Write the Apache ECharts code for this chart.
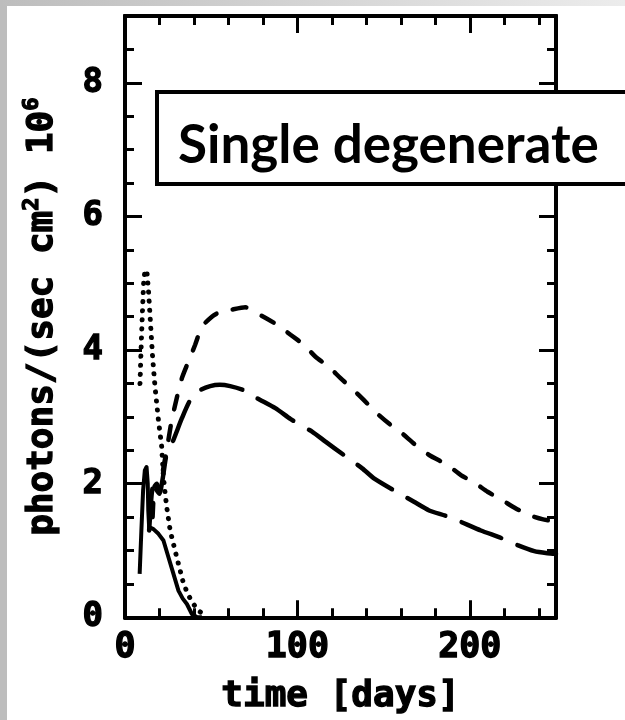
<!DOCTYPE html>
<html>
<head>
<meta charset="utf-8">
<script src="https://cdn.jsdelivr.net/npm/echarts@6/dist/echarts.min.js"></script>
<style>
html,body{margin:0;padding:0;background:#fff;}
#chart{width:625px;height:720px;}
</style>
</head>
<body>
<div id="chart"></div>
<script>
// ---- data (days, photons/(sec cm^2) x 10^6) ----
const xTickLabels = [0, 100, 200];
const yTickLabels = [0, 2, 4, 6, 8];

const dottedLine = [[8.7,3.5],[9.3,4.0],[10.0,4.5],[10.8,5.0],[11.6,5.2],[12.8,5.15],[13.6,4.9],[14.8,4.4],[16.0,3.9],[17.4,3.45],[18.4,3.2],[19.4,2.95],[21.3,2.55],[22.3,2.1],[23.3,1.85],[24.2,1.65],[26.2,1.3],[28.1,1.1],[30.0,0.9],[32.0,0.7],[34.0,0.5],[36.8,0.33],[39.7,0.2],[42.6,0.1],[46.5,0.03]];

const solidLine = [[8.5,0.65],[9.5,1.3],[10.5,1.9],[11.5,2.2],[12.5,2.25],[13.2,2.0],[13.5,1.6],[14.0,1.35],[15.0,1.35],[16.5,1.32],[19.4,1.25],[22.3,1.15],[25.2,0.9],[28.1,0.65],[31.0,0.4],[33.5,0.28],[35.9,0.2],[38.8,0.05],[42.0,0.0],[44.6,0.0]];

const shortDashLine = [[16,1.5],[17,1.95],[18.5,2.0],[20,1.9],[22,2.2],[24.5,2.55],[27.1,2.95],[30,3.28],[33,3.58],[36.8,3.83],[40.7,4.08],[44.6,4.35],[50.4,4.50],[55,4.57],[61,4.60],[69.8,4.64],[79.5,4.51],[88.2,4.38],[96,4.23],[103.7,4.08],[110.5,3.90],[118.2,3.75],[125,3.58],[132.7,3.40],[138.6,3.25],[146.3,3.05],[153.1,2.90],[160.9,2.75],[167.6,2.60],[176.4,2.43],[187,2.28],[194.8,2.13],[203.5,2.0],[210.3,1.88],[219,1.75],[226.7,1.63],[234.5,1.53],[242,1.47],[250,1.43]];

const longDashLine = [[14,1.3],[15.5,1.85],[17,2.05],[18.5,1.9],[20,1.85],[22,2.1],[24.2,2.45],[28,2.65],[33,2.98],[37.8,3.25],[43.6,3.40],[49.4,3.46],[55,3.48],[61,3.46],[68.8,3.40],[76.6,3.28],[87.2,3.13],[95.9,2.97],[101.7,2.88],[108.5,2.78],[116.3,2.63],[126.9,2.43],[137.6,2.23],[144.4,2.08],[156,1.90],[167.6,1.73],[176.4,1.60],[186,1.52],[193.8,1.44],[206.4,1.30],[219,1.18],[227.7,1.08],[237.4,0.99],[245,0.96],[250,0.95]];

const boxText = 'Single degenerate';

// ---- chart ----
const chart = echarts.init(document.getElementById('chart'), null, {renderer: 'canvas'});
const FONT = 'DejaVu Sans Mono';
const lineW = 4;
const heavy = {textBorderColor: '#000', textBorderWidth: 1.3};
function xAxisDef(pos, interval, len, showLabel, name) {
  return {
    type: 'value', position: pos, min: 0, max: 250, interval: interval,
    axisLine: {show: true, onZero: false, lineStyle: {color: '#000', width: lineW}},
    axisTick: {show: true, inside: true, length: len, lineStyle: {color: '#000', width: 3}},
    splitLine: {show: false},
    axisLabel: Object.assign({show: showLabel, margin: 13, color: '#000', fontFamily: FONT, fontWeight: 'bold', fontSize: 35,
      formatter: v => xTickLabels.includes(v) ? String(v) : ''}, heavy),
    name: name || '', nameLocation: 'middle', nameGap: 61,
    nameTextStyle: Object.assign({color: '#000', fontFamily: FONT, fontWeight: 'bold', fontSize: 36}, heavy)
  };
}
function yAxisDef(pos, interval, len, showLabel, withName) {
  return {
    type: 'value', position: pos, min: 0, max: 9, interval: interval,
    axisLine: {show: true, onZero: false, lineStyle: {color: '#000', width: lineW}},
    axisTick: {show: true, inside: true, length: len, lineStyle: {color: '#000', width: 3}},
    splitLine: {show: false},
    axisLabel: Object.assign({show: showLabel, margin: 22, color: '#000', fontFamily: FONT, fontWeight: 'bold', fontSize: 34,
      formatter: v => yTickLabels.includes(v) ? String(v) : ''}, heavy),
    name: withName ? '{b|photons/(sec cm}{s|2}{b|) 10}{s|6}' : '',
    nameLocation: 'middle', nameGap: 60, nameRotate: 90,
    nameTextStyle: {color: '#000', fontFamily: FONT, fontWeight: 'bold', fontSize: 36,
      rich: {
        b: Object.assign({fontFamily: FONT, fontWeight: 'bold', fontSize: 36, color: '#000'}, heavy),
        s: Object.assign({fontFamily: FONT, fontWeight: 'bold', fontSize: 22, color: '#000', verticalAlign: 'top', padding: [0,0,22,0]}, heavy)
      }}
  };
}

const option = {
  animation: false,
  backgroundColor: '#ffffff',
  grid: {left: 125, right: 69, top: 16, bottom: 100, containLabel: false},
  xAxis: [
    xAxisDef('bottom', 20, 9, true, 'time [days]'),
    xAxisDef('bottom', 100, 17, false),
    xAxisDef('top', 20, 9, false),
    xAxisDef('top', 100, 17, false)
  ],
  yAxis: [
    yAxisDef('left', 0.5, 9, true, true),
    yAxisDef('left', 2, 17, false, false),
    yAxisDef('right', 0.5, 9, false, false),
    yAxisDef('right', 2, 17, false, false)
  ],
  series: [
    {type: 'line', data: dottedLine, showSymbol: false, smooth: false, xAxisIndex: 0, yAxisIndex: 0,
      lineStyle: {color: '#000', width: 5, type: [0.1, 9], cap: 'round'}},
    {type: 'line', data: solidLine, showSymbol: false, smooth: false, xAxisIndex: 0, yAxisIndex: 0,
      lineStyle: {color: '#000', width: 4, type: 'solid', join: 'round'}},
    {type: 'line', data: shortDashLine, showSymbol: false, smooth: 0.2, xAxisIndex: 0, yAxisIndex: 0,
      lineStyle: {color: '#000', width: 4.5, type: [14, 17], cap: 'round'}},
    {type: 'line', data: longDashLine, showSymbol: false, smooth: 0.2, xAxisIndex: 0, yAxisIndex: 0,
      lineStyle: {color: '#000', width: 4.5, type: [42, 18], cap: 'round'}}
  ],
  graphic: [
    {type: 'rect', shape: {x: 0, y: 0, width: 7, height: 720}, style: {fill: '#bdbdbd'}, z: 200, silent: true},
    {type: 'rect', shape: {x: 0, y: 0, width: 625, height: 6},
      style: {fill: new echarts.graphic.LinearGradient(0, 0, 1, 0, [{offset: 0, color: '#bdbdbd'}, {offset: 1, color: '#ececec'}])}, z: 200, silent: true},
    {type: 'rect', shape: {x: 157, y: 92, width: 500, height: 92},
      style: {fill: '#fff', stroke: '#000', lineWidth: 4}, z: 100, silent: true},
    {type: 'text', x: 178, y: 146, z: 101, silent: true,
      style: {text: boxText, fill: '#000', font: 'bold 53px Lato', textVerticalAlign: 'middle', verticalAlign: 'middle'}}
  ]
};
chart.setOption(option);
</script>
</body>
</html>
